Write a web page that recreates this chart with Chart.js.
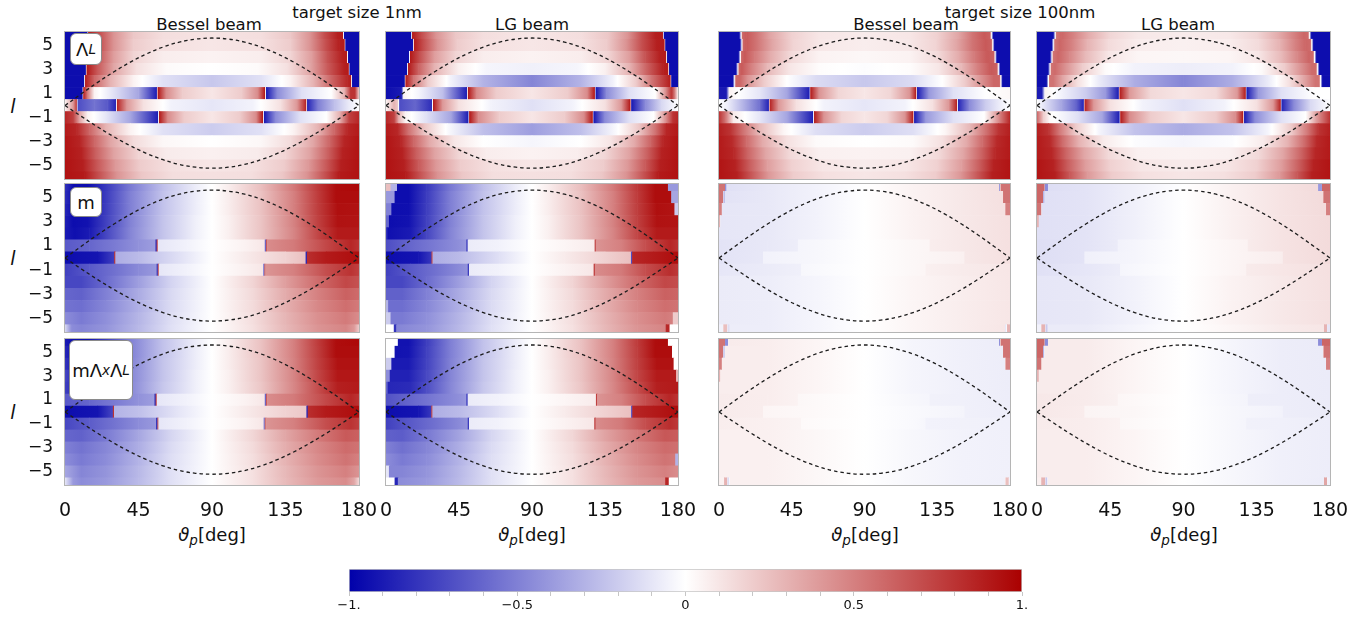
<!DOCTYPE html>
<html>
<head>
<meta charset="utf-8">
<script src="https://cdn.jsdelivr.net/npm/chart.js@4.4.0/dist/chart.umd.min.js"></script>
<style>
	body { margin: 0; width: 1370px; height: 618px; position: relative; overflow: hidden; background: #fff; font-family: "DejaVu Sans", sans-serif; color: #111; }
	canvas { position: absolute; }
	.t { position: absolute; font-size: 15px; white-space: nowrap; transform: translate(-50%, -50%) scaleX(1.1); }
	.ax { position: absolute; font-size: 18px; white-space: nowrap; transform: translate(-50%, -50%); }
	.ax sub, .box sub { font-size: 0.75em; vertical-align: -0.3em; line-height: 0; }
	.yl { position: absolute; font-size: 19px; font-style: italic; transform: translate(-50%, -50%); }
	.box { position: absolute; z-index: 5; background: #fff; border: 1px solid #8a8a8a; border-radius: 6px; box-sizing: border-box; display: flex; align-items: center; justify-content: center; font-size: 18px; }
</style>
</head>
<body>
<div class="t" style="left:357px;top:13px">target size 1nm</div>
<div class="t" style="left:1020px;top:13px">target size 100nm</div>
<div class="t" style="left:209px;top:25px">Bessel beam</div>
<div class="t" style="left:532px;top:25px">LG beam</div>
<div class="t" style="left:906px;top:25px">Bessel beam</div>
<div class="t" style="left:1178px;top:25px">LG beam</div>

<div class="yl" style="left:13px;top:106px">l</div>
<div class="yl" style="left:13px;top:258px">l</div>
<div class="yl" style="left:13px;top:412px">l</div>

<div class="ax" style="left:212px;top:534px"><i>ϑ</i><sub><i>p</i></sub>[deg]</div>
<div class="ax" style="left:532px;top:534px"><i>ϑ</i><sub><i>p</i></sub>[deg]</div>
<div class="ax" style="left:865px;top:534px"><i>ϑ</i><sub><i>p</i></sub>[deg]</div>
<div class="ax" style="left:1184px;top:534px"><i>ϑ</i><sub><i>p</i></sub>[deg]</div>

<div class="box" style="left:70px;top:33px;width:32px;height:32px">Λ<sub><i>L</i></sub></div>
<div class="box" style="left:70px;top:187px;width:32px;height:30px">m</div>
<div class="box" style="left:69px;top:340px;width:64px;height:60px">mΛ<sub><i>x</i></sub>Λ<sub><i>L</i></sub></div>

<script>
//Filas de l (de arriba hacia abajo)
const lRows = [6, 5, 4, 3, 2, 1, 0, -1, -2, -3, -4, -5, -6]
const xTicks = [0, 45, 90, 135, 180]
const yTicks = [5, 3, 1, -1, -3, -5]
const cbTicks = [-1, -0.5, 0, 0.5, 1]
const cbLabels = ['\u22121.', '\u22120.5', '0', '0.5', '1.']
const cbMinorTicks = [-1, -0.9, -0.8, -0.7, -0.6, -0.5, -0.4, -0.3, -0.2, -0.1, 0, 0.1, 0.2, 0.3, 0.4, 0.5, 0.6, 0.7, 0.8, 0.9, 1]

//Curvas punteadas
const curveTheta = [0, 10, 20, 30, 40, 50, 60, 70, 80, 90, 100, 110, 120, 130, 140, 150, 160, 170, 180]
const upperCurve = [0, 0.97, 1.92, 2.8, 3.6, 4.29, 4.85, 5.26, 5.51, 5.6, 5.51, 5.26, 4.85, 4.29, 3.6, 2.8, 1.92, 0.97, 0]
const lowerCurve = [0, -0.9, -1.78, -2.6, -3.34, -3.98, -4.5, -4.89, -5.12, -5.2, -5.12, -4.89, -4.5, -3.98, -3.34, -2.6, -1.78, -0.9, 0]

//Λ_L - Bessel - 1nm  (cada fila: pares [theta, valor])
const lambdaBessel1 = [
	[[0,-.95],[13.5,-.95],[14.5,.9],[21,.7],[30,.42],[42,.22],[60,.13],[90,.11],[120,.13],[138,.22],[150,.42],[159,.7],[167,.88],[170,.9],[171,-.95],[180,-.95]],
	[[0,-.95],[14,-.95],[15,.9],[21,.7],[30,.42],[42,.2],[60,.12],[90,.1],[120,.12],[138,.2],[150,.42],[160,.7],[168,.88],[171,.9],[172,-.95],[180,-.95]],
	[[0,-.95],[13.5,-.95],[14.5,.9],[20,.68],[30,.38],[42,.17],[60,.07],[90,.05],[120,.07],[138,.17],[151,.38],[161,.68],[170,.88],[172.5,.9],[173.5,-.95],[180,-.95]],
	[[0,-.95],[12.5,-.95],[13.5,.9],[20,.65],[30,.35],[44,.12],[62,.02],[90,0],[118,.02],[136,.12],[150,.35],[161,.65],[171,.88],[173.5,.9],[174.5,-.95],[180,-.95]],
	[[0,-.95],[11.5,-.95],[12.5,.88],[18,.6],[28,.3],[42,.05],[60,-.12],[90,-.22],[120,-.12],[138,.05],[152,.3],[163,.6],[173,.85],[175,.88],[176,-.95],[180,-.95]],
	[[0,-.95],[10.5,-.95],[11.5,.85],[14,.5],[18,.05],[30,-.12],[45,-.35],[56,-.88],[57,.9],[62,.45],[72,.2],[90,.1],[108,.2],[118,.45],[122.3,.9],[123.3,-.9],[130,-.45],[145,-.12],[163,0],[171,.3],[175,.8],[177.5,.8],[180,.2]],
	[[0,.05],[5,.4],[7,.75],[8,-.7],[18,-.55],[26,-.65],[31,-.85],[32,.85],[38,.4],[48,.12],[65,-.05],[90,-.1],[115,-.05],[132,.12],[142,.4],[147.5,.85],[148.5,-.85],[155,-.5],[165,-.25],[174,-.08],[180,0]],
	[[0,.85],[5,.75],[9,.35],[14,.05],[25,-.1],[40,-.35],[56.8,-.88],[57.8,.9],[63,.45],[73,.2],[90,.1],[107,.2],[117,.45],[121,.9],[122,-.9],[129,-.45],[144,-.12],[160,0],[168,.3],[174,.75],[180,.85]],
	[[0,.9],[7,.85],[15,.6],[25,.3],[40,.05],[60,-.12],[90,-.2],[120,-.12],[140,.05],[155,.3],[165,.6],[173,.85],[180,.9]],
	[[0,.92],[9,.86],[18,.6],[28,.35],[42,.14],[60,.03],[90,0],[120,.03],[138,.14],[152,.35],[162,.6],[171,.86],[180,.92]],
	[[0,.92],[10,.87],[19,.62],[30,.36],[45,.17],[62,.08],[90,.06],[118,.08],[135,.17],[150,.36],[161,.62],[170,.87],[180,.92]],
	[[0,.93],[11,.88],[20,.65],[31,.4],[46,.2],[65,.12],[90,.1],[115,.12],[134,.2],[149,.4],[160,.65],[169,.88],[180,.93]],
	[[0,.93],[12,.9],[21,.68],[32,.42],[47,.22],[66,.13],[90,.12],[114,.13],[133,.22],[148,.42],[159,.68],[168,.9],[180,.93]]
]

//Λ_L - LG - 1nm
const lambdaLG1 = [
	[[0,-.95],[15.3,-.95],[16.3,.9],[22,.7],[31,.42],[43,.22],[60,.13],[90,.1],[120,.13],[137,.22],[149,.42],[158,.7],[166,.88],[170.5,.9],[171.5,-.95],[180,-.95]],
	[[0,-.95],[16.4,-.95],[17.4,.9],[23,.7],[32,.42],[44,.2],[60,.12],[90,.1],[120,.12],[136,.2],[148,.42],[158,.7],[167,.88],[171.5,.9],[172.5,-.95],[180,-.95]],
	[[0,-.95],[14,-.95],[15,.9],[21,.68],[30,.38],[43,.17],[60,.07],[90,.05],[120,.07],[137,.17],[150,.38],[160,.68],[169,.88],[172.5,.9],[173.5,-.95],[180,-.95]],
	[[0,-.95],[12.8,-.95],[13.8,.9],[20,.62],[30,.3],[45,.06],[62,-.04],[90,-.06],[118,-.04],[135,.06],[150,.3],[161,.62],[171,.88],[173.8,.9],[174.8,-.95],[180,-.95]],
	[[0,-.95],[11.3,-.95],[12.3,.88],[17,.55],[26,.2],[40,-.05],[60,-.3],[90,-.48],[120,-.3],[140,-.05],[154,.2],[164,.55],[174,.85],[175.2,.88],[176.2,-.95],[180,-.95]],
	[[0,-.95],[9.5,-.9],[11,.05],[20,-.04],[35,-.25],[49.7,-.88],[50.7,.9],[56,.45],[68,.2],[90,.1],[112,.2],[124,.45],[128.5,.9],[129.5,-.9],[136,-.45],[150,-.12],[166,0],[172,.4],[176,.8],[177.5,.6],[180,.05]],
	[[0,.05],[5,.3],[7.5,.2],[8.5,-.7],[18,-.6],[28.2,-.82],[29.2,.9],[35,.4],[45,.12],[65,-.05],[90,-.12],[115,-.05],[135,.12],[145,.4],[150.5,.9],[151.5,-.9],[160,-.45],[170,-.15],[180,0]],
	[[0,.85],[5,.75],[8,.3],[12,.05],[25,-.12],[40,-.35],[50.6,-.88],[51.6,.9],[57,.45],[70,.2],[90,.1],[110,.2],[122,.45],[127.2,.9],[128.2,-.9],[135,-.45],[150,-.12],[165,0],[172,.4],[177,.8],[180,.85]],
	[[0,.9],[7,.85],[14,.55],[24,.22],[38,-.02],[60,-.25],[90,-.38],[120,-.25],[142,-.02],[156,.22],[166,.55],[173,.85],[180,.9]],
	[[0,.92],[9,.86],[17,.6],[27,.33],[42,.1],[60,0],[90,-.04],[120,0],[138,.1],[153,.33],[163,.6],[171,.86],[180,.92]],
	[[0,.92],[10,.87],[19,.62],[30,.36],[45,.16],[62,.07],[90,.05],[118,.07],[135,.16],[150,.36],[161,.62],[170,.87],[180,.92]],
	[[0,.93],[11,.88],[20,.65],[31,.4],[46,.2],[65,.12],[90,.1],[115,.12],[134,.2],[149,.4],[160,.65],[169,.88],[180,.93]],
	[[0,.93],[12,.9],[21,.68],[32,.42],[47,.22],[66,.13],[90,.12],[114,.13],[133,.22],[148,.42],[159,.68],[168,.9],[180,.93]]
]

//Λ_L - Bessel - 100nm
const lambdaBessel100 = [
	[[0,-.95],[12.5,-.95],[14.5,.6],[17,.65],[23,.55],[32,.35],[45,.18],[62,.1],[90,.08],[118,.1],[135,.18],[148,.35],[157,.55],[164,.65],[167.7,.62],[169.7,-.95],[180,-.95]],
	[[0,-.95],[13,-.95],[15,.6],[17,.65],[23,.55],[33,.35],[46,.17],[63,.09],[90,.07],[117,.09],[134,.17],[147,.35],[157,.55],[165,.65],[168.5,.62],[170.5,-.95],[180,-.95]],
	[[0,-.95],[12,-.95],[14,.6],[16,.65],[22,.52],[32,.32],[45,.14],[62,.05],[90,.03],[118,.05],[135,.14],[148,.32],[158,.52],[166,.65],[170,.62],[172,-.95],[180,-.95]],
	[[0,-.95],[10.5,-.95],[12.5,.6],[14,.65],[20,.5],[30,.28],[44,.1],[62,.01],[90,-.01],[118,.01],[136,.1],[150,.28],[160,.5],[168,.65],[172,.62],[174,-.95],[180,-.95]],
	[[0,-.95],[8.5,-.95],[10.5,.6],[13,.6],[18,.42],[28,.2],[42,0],[60,-.14],[90,-.22],[120,-.14],[138,0],[152,.2],[162,.42],[170,.6],[173.5,.6],[175.5,-.95],[180,-.95]],
	[[0,-.9],[4.5,-.9],[6.5,.05],[12,0],[25,-.1],[42,-.35],[55.8,-.88],[56.8,.88],[62,.42],[74,.16],[90,.1],[106,.16],[118,.42],[121.8,.88],[122.8,-.88],[130,-.4],[145,-.12],[165,0],[180,.03]],
	[[0,0],[5,-.06],[15,-.3],[25,-.55],[30.6,-.85],[31.6,.85],[37,.4],[48,.12],[65,-.05],[90,-.1],[115,-.05],[132,.12],[142,.4],[147,.85],[148,-.85],[155,-.45],[165,-.2],[175,-.05],[180,0]],
	[[0,.8],[4,.55],[9,.08],[25,-.1],[42,-.35],[58,-.88],[59,.88],[65,.42],[76,.16],[90,.1],[104,.16],[115,.42],[120,.88],[121,-.88],[128,-.4],[145,-.12],[164,0],[172,.4],[180,.85]],
	[[0,.88],[7,.8],[15,.55],[25,.28],[40,.04],[60,-.13],[90,-.2],[120,-.13],[140,.04],[155,.28],[165,.55],[173,.8],[180,.88]],
	[[0,.9],[8,.84],[17,.58],[27,.33],[42,.12],[60,.02],[90,0],[120,.02],[138,.12],[153,.33],[163,.58],[172,.84],[180,.9]],
	[[0,.9],[9,.85],[18,.6],[29,.35],[44,.15],[62,.06],[90,.05],[118,.06],[136,.15],[151,.35],[162,.6],[171,.85],[180,.9]],
	[[0,.92],[10,.87],[19,.63],[30,.38],[45,.18],[64,.1],[90,.08],[116,.1],[135,.18],[150,.38],[161,.63],[170,.87],[180,.92]],
	[[0,.92],[11,.88],[20,.66],[31,.4],[46,.2],[65,.12],[90,.1],[115,.12],[134,.2],[149,.4],[160,.66],[169,.88],[180,.92]]
]

//Λ_L - LG - 100nm
const lambdaLG100 = [
	[[0,-.95],[10,-.95],[12,.55],[15,.6],[22,.5],[32,.32],[45,.16],[62,.09],[90,.08],[118,.09],[135,.16],[148,.32],[158,.5],[164,.6],[166.6,.58],[168.6,-.95],[180,-.95]],
	[[0,-.95],[9,-.95],[11,.55],[14,.6],[21,.5],[31,.3],[44,.14],[62,.07],[90,.06],[118,.07],[136,.14],[149,.3],[159,.5],[165,.6],[168,.58],[170,-.95],[180,-.95]],
	[[0,-.95],[8,-.95],[10,.55],[13,.6],[20,.47],[30,.27],[44,.1],[62,.04],[90,.03],[118,.04],[136,.1],[150,.27],[160,.47],[167,.6],[169.7,.58],[171.7,-.95],[180,-.95]],
	[[0,-.95],[6.8,-.95],[8.8,.55],[11,.58],[18,.42],[28,.2],[42,.02],[60,-.05],[90,-.07],[120,-.05],[138,.02],[152,.2],[162,.42],[169,.58],[171.5,.58],[173.5,-.95],[180,-.95]],
	[[0,-.95],[5.8,-.95],[7.8,.55],[10,.55],[16,.35],[25,.12],[38,-.08],[60,-.32],[90,-.48],[120,-.32],[142,-.08],[155,.12],[164,.35],[171,.55],[173.4,.55],[175.4,-.95],[180,-.95]],
	[[0,-.9],[3,-.9],[5,.05],[15,-.05],[30,-.2],[42,-.4],[50,-.88],[51,.88],[57,.4],[70,.15],[90,.1],[110,.15],[123,.4],[128,.88],[129,-.88],[136,-.4],[150,-.12],[170,0],[180,0]],
	[[0,0],[4,-.1],[15,-.35],[24,-.6],[28.5,-.85],[29.5,.85],[35,.4],[45,.12],[65,-.05],[90,-.12],[115,-.05],[135,.12],[145,.4],[149.5,.85],[150.5,-.85],[158,-.45],[168,-.15],[180,0]],
	[[0,.6],[4,.2],[8,.02],[25,-.12],[40,-.35],[50.5,-.88],[51.5,.88],[57,.45],[70,.2],[90,.1],[110,.2],[122,.45],[126.5,.88],[127.5,-.88],[134,-.45],[150,-.12],[165,0],[172,.4],[180,.8]],
	[[0,.88],[7,.8],[14,.52],[24,.2],[38,-.04],[60,-.24],[90,-.33],[120,-.24],[142,-.04],[156,.2],[166,.52],[173,.8],[180,.88]],
	[[0,.9],[8,.84],[16,.57],[26,.3],[41,.08],[60,-.01],[90,-.04],[120,-.01],[139,.08],[154,.3],[164,.57],[172,.84],[180,.9]],
	[[0,.9],[9,.85],[18,.6],[29,.35],[44,.15],[62,.06],[90,.05],[118,.06],[136,.15],[151,.35],[162,.6],[171,.85],[180,.9]],
	[[0,.92],[10,.87],[19,.63],[30,.38],[45,.18],[64,.1],[90,.08],[116,.1],[135,.18],[150,.38],[161,.63],[170,.87],[180,.92]],
	[[0,.92],[11,.88],[20,.66],[31,.4],[46,.2],[65,.12],[90,.1],[115,.12],[134,.2],[149,.4],[160,.66],[169,.88],[180,.92]]
]

//m - Bessel - 1nm
const mBessel1 = [
	[[0,-.8],[5,-.95],[14,-.95],[25,-.78],[40,-.52],[60,-.25],[80,-.07],[90,0],[100,.07],[120,.25],[140,.52],[155,.78],[166,.95],[180,.97]],
	[[0,-.82],[5,-.95],[14,-.95],[25,-.77],[40,-.5],[60,-.24],[80,-.07],[90,0],[100,.07],[120,.24],[140,.5],[155,.77],[166,.95],[180,.95]],
	[[0,-.85],[5,-.95],[14,-.94],[25,-.76],[40,-.5],[60,-.24],[80,-.07],[90,0],[100,.07],[120,.24],[140,.5],[155,.76],[167,.94],[180,.93]],
	[[0,-.88],[5,-.95],[14,-.93],[25,-.75],[40,-.49],[60,-.23],[80,-.06],[90,0],[100,.06],[120,.23],[140,.49],[155,.75],[167,.93],[180,.92]],
	[[0,-.9],[6,-.94],[15,-.9],[25,-.73],[40,-.48],[60,-.23],[80,-.06],[90,0],[100,.06],[120,.23],[140,.48],[155,.73],[167,.9],[180,.9]],
	[[0,-.65],[15,-.6],[30,-.52],[45,-.43],[55.6,-.38],[55.6,-.85],[56.3,-.85],[56.3,.7],[57,.7],[57,-.1],[75,-.05],[90,0],[110,.05],[122.5,.1],[122.5,-.6],[123.2,-.6],[123.2,.7],[124,.45],[140,.52],[160,.72],[175,.85],[180,.8]],
	[[0,-.95],[20,-.92],[30.3,-.75],[30.3,.8],[31,.8],[31,-.32],[45,-.27],[70,-.12],[90,0],[110,.08],[135,.18],[147.5,.25],[147.5,-.85],[148.3,-.85],[148.3,.82],[160,.9],[180,.95]],
	[[0,-.75],[15,-.65],[30,-.56],[45,-.46],[56.3,-.4],[56.3,-.8],[57,-.8],[57,.6],[57.7,.6],[57.7,-.1],[75,-.05],[90,0],[110,.06],[121.5,.1],[121.5,-.5],[122.2,-.5],[122.2,.6],[123,.42],[140,.5],[160,.7],[175,.8],[180,.75]],
	[[0,-.72],[10,-.72],[25,-.58],[45,-.38],[65,-.17],[90,0],[115,.17],[135,.38],[155,.58],[172,.72],[180,.68]],
	[[0,-.6],[10,-.62],[25,-.5],[45,-.33],[65,-.15],[90,0],[115,.15],[135,.33],[155,.5],[172,.62],[180,.58]],
	[[0,-.55],[10,-.57],[25,-.47],[45,-.31],[65,-.14],[90,0],[115,.14],[135,.31],[155,.47],[172,.57],[180,.52]],
	[[0,-.45],[10,-.52],[25,-.44],[45,-.29],[65,-.13],[90,0],[115,.13],[135,.29],[155,.44],[172,.52],[180,.45]],
	[[0,-.15],[4,-.45],[10,-.48],[25,-.42],[45,-.28],[65,-.12],[90,0],[115,.12],[135,.28],[155,.42],[172,.48],[177,.4],[180,.2]]
]

//m - LG - 1nm
const mLG1 = [
	[[0,.25],[3,.25],[3,-.3],[7,-.3],[7,-.95],[14,-.95],[25,-.78],[40,-.52],[60,-.25],[80,-.07],[90,0],[100,.07],[120,.25],[140,.52],[155,.78],[166,.95],[174,.95],[174,-.4],[180,-.4]],
	[[0,-.4],[5.5,-.4],[5.5,-.95],[14,-.95],[25,-.77],[40,-.5],[60,-.24],[80,-.07],[90,0],[100,.07],[120,.24],[140,.5],[155,.77],[166,.95],[176,.95],[176,-.35],[180,-.35]],
	[[0,-.5],[3.5,-.5],[3.5,-.95],[14,-.94],[25,-.76],[40,-.5],[60,-.24],[80,-.07],[90,0],[100,.07],[120,.24],[140,.5],[155,.76],[167,.94],[178,.92],[178,-.2],[180,-.2]],
	[[0,-.6],[2,-.6],[2,-.95],[14,-.93],[25,-.75],[40,-.49],[60,-.23],[80,-.06],[90,0],[100,.06],[120,.23],[140,.49],[155,.75],[167,.93],[180,.92]],
	[[0,-.8],[1,-.8],[1,-.94],[15,-.9],[25,-.73],[40,-.48],[60,-.23],[80,-.06],[90,0],[100,.06],[120,.23],[140,.48],[155,.73],[167,.9],[180,.9]],
	[[0,-.7],[15,-.6],[30,-.52],[45,-.44],[49.8,-.4],[49.8,-.85],[50.5,-.85],[50.5,-.08],[70,-.05],[90,0],[110,.04],[128.8,.08],[128.8,.75],[129.5,.75],[129.5,.42],[145,.5],[160,.7],[175,.85],[180,.8]],
	[[0,-.95],[20,-.92],[28.2,-.78],[28.2,.7],[28.9,.7],[28.9,-.32],[45,-.27],[70,-.12],[90,0],[110,.08],[135,.18],[151.2,.25],[151.2,-.7],[151.9,-.7],[151.9,.85],[165,.9],[180,.95]],
	[[0,-.75],[15,-.65],[30,-.56],[45,-.46],[50.6,-.42],[50.6,-.85],[51.3,-.85],[51.3,-.08],[70,-.05],[90,0],[110,.05],[128.2,.1],[128.2,.8],[128.9,.8],[128.9,.45],[145,.52],[160,.7],[175,.82],[180,.78]],
	[[0,-.72],[10,-.72],[25,-.58],[45,-.38],[65,-.17],[90,0],[115,.17],[135,.38],[155,.58],[172,.72],[180,.7]],
	[[0,-.62],[10,-.62],[25,-.5],[45,-.33],[65,-.15],[90,0],[115,.15],[135,.33],[155,.5],[172,.62],[180,.6]],
	[[0,-.3],[1.5,-.3],[1.5,-.57],[10,-.57],[25,-.47],[45,-.31],[65,-.14],[90,0],[115,.14],[135,.31],[155,.47],[172,.57],[180,.55]],
	[[0,-.2],[3,-.2],[3,-.52],[10,-.52],[25,-.44],[45,-.29],[65,-.13],[90,0],[115,.13],[135,.29],[155,.44],[172,.52],[177,.5],[177,.2],[180,.2]],
	[[0,0],[5,0],[5,-.8],[6.5,-.8],[6.5,-.48],[25,-.42],[45,-.28],[65,-.12],[90,0],[115,.12],[135,.28],[155,.42],[172,.48],[173,.85],[175,.85],[175,0],[180,0]]
]

//m - Bessel - 100nm
const mBessel100 = [
	[[0,.55],[3.5,.55],[4,-.45],[5,-.12],[30,-.09],[60,-.05],[90,0],[120,.05],[150,.09],[173,.12],[173.5,-.4],[174.5,.55],[180,.55]],
	[[0,.55],[2.5,.55],[3,-.35],[4,-.11],[30,-.09],[60,-.05],[90,0],[120,.05],[150,.09],[175.5,.12],[176,.55],[180,.55]],
	[[0,.5],[1.5,.5],[2,-.1],[30,-.09],[60,-.05],[90,0],[120,.05],[150,.09],[177,.12],[177.5,.5],[180,.5]],
	[[0,.3],[.8,.3],[1,-.1],[30,-.09],[60,-.05],[90,0],[120,.05],[150,.09],[180,.12]],
	[[0,-.1],[30,-.09],[60,-.05],[90,0],[120,.05],[150,.09],[180,.12]],
	[[0,-.11],[30,-.09],[49,-.07],[49,-.04],[60,-.03],[90,0],[120,.03],[130.5,.04],[130.5,.07],[150,.09],[180,.12]],
	[[0,-.11],[27.4,-.09],[27.4,-.05],[60,-.03],[90,0],[120,.03],[152,.06],[152,.09],[180,.12]],
	[[0,-.1],[30,-.08],[51,-.06],[51,-.03],[90,0],[120,.03],[128,.04],[128,.06],[150,.08],[180,.1]],
	[[0,-.08],[30,-.07],[60,-.04],[90,0],[120,.04],[150,.07],[180,.1]],
	[[0,-.08],[30,-.07],[60,-.04],[90,0],[120,.04],[150,.07],[180,.1]],
	[[0,-.08],[30,-.07],[60,-.04],[90,0],[120,.04],[150,.07],[180,.1]],
	[[0,-.08],[30,-.07],[60,-.04],[90,0],[120,.04],[150,.07],[180,.1]],
	[[0,-.05],[2.5,-.05],[3,.25],[5,.25],[5.5,-.15],[7,-.07],[30,-.07],[60,-.04],[90,0],[120,.04],[150,.07],[177,.1],[177.5,-.2],[178.5,.3],[180,.3]]
]

//m - LG - 100nm
const mLG100 = [
	[[0,.6],[4.5,.6],[5,-.45],[6.5,-.45],[7,-.13],[30,-.11],[60,-.06],[90,0],[120,.06],[150,.11],[172.5,.14],[173,-.4],[174.8,-.4],[175.3,.6],[180,.6]],
	[[0,.6],[3.5,.6],[4,-.3],[5,-.12],[30,-.11],[60,-.06],[90,0],[120,.06],[150,.11],[175.8,.14],[176.3,.55],[180,.55]],
	[[0,.55],[2.5,.55],[3,-.12],[30,-.11],[60,-.06],[90,0],[120,.06],[150,.11],[177.3,.14],[177.8,.5],[180,.5]],
	[[0,.3],[1,.3],[1.3,-.12],[30,-.11],[60,-.06],[90,0],[120,.06],[150,.11],[180,.14]],
	[[0,-.12],[30,-.11],[60,-.06],[90,0],[120,.06],[150,.11],[180,.14]],
	[[0,-.13],[30,-.11],[49.8,-.08],[49.8,-.05],[60,-.04],[90,0],[120,.04],[129.7,.05],[129.7,.08],[150,.11],[180,.14]],
	[[0,-.13],[29.3,-.11],[29.3,-.06],[60,-.04],[90,0],[120,.04],[151.2,.07],[151.2,.11],[180,.14]],
	[[0,-.12],[30,-.1],[51.2,-.07],[51.2,-.04],[90,0],[120,.04],[128.7,.05],[128.7,.08],[150,.1],[180,.12]],
	[[0,-.1],[30,-.09],[60,-.05],[90,0],[120,.05],[150,.09],[180,.12]],
	[[0,-.1],[30,-.09],[60,-.05],[90,0],[120,.05],[150,.09],[180,.12]],
	[[0,-.1],[30,-.09],[60,-.05],[90,0],[120,.05],[150,.09],[180,.12]],
	[[0,-.1],[30,-.09],[60,-.05],[90,0],[120,.05],[150,.09],[180,.12]],
	[[0,-.05],[2.5,-.05],[3,.3],[5,.3],[5.5,-.25],[7,-.08],[30,-.08],[60,-.04],[90,0],[120,.04],[150,.08],[176,.1],[176.5,.3],[178,.3],[178.5,-.1],[180,-.1]]
]

//mΛxΛL - Bessel - 1nm
const mllBessel1 = [
	[[0,-.9],[5,-.95],[14,-.93],[25,-.76],[40,-.5],[60,-.24],[80,-.07],[90,0],[100,.07],[120,.24],[140,.5],[155,.77],[166,.95],[180,.97]],
	[[0,-.85],[5,-.93],[14,-.92],[25,-.75],[40,-.5],[60,-.24],[80,-.07],[90,0],[100,.07],[120,.24],[140,.5],[155,.76],[166,.95],[180,.95]],
	[[0,-.8],[5,-.9],[14,-.9],[25,-.74],[40,-.49],[60,-.23],[80,-.07],[90,0],[100,.07],[120,.23],[140,.49],[155,.75],[167,.93],[180,.93]],
	[[0,-.72],[5,-.85],[14,-.87],[25,-.72],[40,-.48],[60,-.23],[80,-.06],[90,0],[100,.06],[120,.23],[140,.48],[155,.73],[167,.91],[180,.91]],
	[[0,-.75],[6,-.85],[15,-.83],[25,-.7],[40,-.47],[60,-.22],[80,-.06],[90,0],[100,.06],[120,.22],[140,.47],[155,.7],[167,.88],[180,.9]],
	[[0,-.65],[15,-.6],[30,-.52],[45,-.43],[55,-.38],[55,-.85],[55.7,-.85],[55.7,.7],[56.4,.7],[56.4,-.1],[75,-.05],[90,0],[110,.05],[122.5,.1],[122.5,-.6],[123.2,-.6],[123.2,.7],[124,.45],[140,.52],[160,.72],[175,.85],[180,.8]],
	[[0,-.95],[20,-.92],[29.5,-.72],[29.5,.8],[30.2,.8],[30.2,-.3],[45,-.25],[70,-.1],[90,0],[110,.08],[135,.18],[148,.22],[148,-.85],[148.8,-.85],[148.8,.82],[160,.9],[180,.95]],
	[[0,-.72],[15,-.64],[30,-.55],[45,-.45],[56,-.4],[56,-.85],[56.7,-.85],[56.7,.6],[57.4,.6],[57.4,-.1],[75,-.05],[90,0],[110,.05],[121.8,.1],[121.8,-.5],[122.5,-.5],[122.5,.6],[123.3,.42],[140,.5],[160,.7],[175,.8],[180,.75]],
	[[0,-.6],[10,-.62],[25,-.52],[45,-.35],[65,-.16],[90,0],[115,.16],[135,.35],[155,.52],[172,.65],[180,.62]],
	[[0,-.5],[10,-.55],[25,-.47],[45,-.32],[65,-.14],[90,0],[115,.14],[135,.32],[155,.47],[172,.58],[180,.55]],
	[[0,-.45],[10,-.52],[25,-.45],[45,-.3],[65,-.13],[90,0],[115,.13],[135,.3],[155,.45],[172,.55],[180,.5]],
	[[0,-.35],[10,-.48],[25,-.42],[45,-.28],[65,-.12],[90,0],[115,.12],[135,.28],[155,.42],[172,.5],[180,.42]],
	[[0,-.1],[5,-.4],[10,-.45],[25,-.4],[45,-.27],[65,-.12],[90,0],[115,.12],[135,.27],[155,.4],[172,.45],[177,.35],[180,.15]]
]

//mΛxΛL - LG - 1nm
const mllLG1 = [
	[[0,0],[7.5,0],[7.5,-.93],[14,-.93],[25,-.76],[40,-.5],[60,-.24],[80,-.07],[90,0],[100,.07],[120,.24],[140,.5],[155,.77],[166,.95],[174,.96],[174,0],[180,0]],
	[[0,0],[5.5,0],[5.5,-.93],[14,-.92],[25,-.75],[40,-.5],[60,-.24],[80,-.07],[90,0],[100,.07],[120,.24],[140,.5],[155,.76],[166,.95],[176.5,.95],[176.5,0],[180,0]],
	[[0,-.2],[3.5,-.2],[3.5,-.9],[14,-.9],[25,-.74],[40,-.49],[60,-.23],[80,-.07],[90,0],[100,.07],[120,.23],[140,.49],[155,.75],[167,.93],[177.5,.93],[177.5,0],[180,0]],
	[[0,-.45],[2.5,-.45],[2.5,-.87],[14,-.87],[25,-.72],[40,-.48],[60,-.23],[80,-.06],[90,0],[100,.06],[120,.23],[140,.48],[155,.73],[167,.9],[179,.9],[179,.3],[180,.3]],
	[[0,-.6],[1.2,-.6],[1.2,-.85],[15,-.83],[25,-.7],[40,-.47],[60,-.22],[80,-.06],[90,0],[100,.06],[120,.22],[140,.47],[155,.7],[167,.88],[180,.9]],
	[[0,-.68],[15,-.6],[30,-.52],[45,-.44],[49.8,-.4],[49.8,-.85],[50.5,-.85],[50.5,-.08],[70,-.05],[90,0],[110,.04],[129.6,.08],[129.6,.75],[130.3,.75],[130.3,.42],[145,.5],[160,.7],[175,.85],[180,.8]],
	[[0,-.95],[20,-.92],[28.1,-.78],[28.1,.7],[28.8,.7],[28.8,-.32],[45,-.27],[70,-.12],[90,0],[110,.08],[135,.18],[151.3,.25],[151.3,-.7],[152,-.7],[152,.85],[165,.9],[180,.95]],
	[[0,-.75],[15,-.65],[30,-.56],[45,-.46],[50.6,-.42],[50.6,-.85],[51.3,-.85],[51.3,-.08],[70,-.05],[90,0],[110,.05],[128.6,.1],[128.6,.8],[129.3,.8],[129.3,.45],[145,.52],[160,.7],[175,.82],[180,.78]],
	[[0,-.62],[10,-.64],[25,-.53],[45,-.36],[65,-.16],[90,0],[115,.16],[135,.36],[155,.53],[172,.66],[180,.64]],
	[[0,-.5],[10,-.56],[25,-.48],[45,-.32],[65,-.14],[90,0],[115,.14],[135,.32],[155,.48],[172,.58],[180,.56]],
	[[0,-.45],[10,-.52],[25,-.45],[45,-.3],[65,-.13],[90,0],[115,.13],[135,.3],[155,.45],[172,.55],[178.5,.52],[178.5,-.3],[180,-.3]],
	[[0,-.1],[2,-.1],[2,-.48],[10,-.48],[25,-.42],[45,-.28],[65,-.12],[90,0],[115,.12],[135,.28],[155,.42],[172,.5],[180,.45]],
	[[0,0],[5.5,0],[5.5,-.85],[7.5,-.85],[7.5,-.45],[25,-.4],[45,-.27],[65,-.12],[90,0],[115,.12],[135,.27],[155,.4],[172,.45],[172.5,.85],[174.5,.85],[174.5,0],[180,0]]
]

//mΛxΛL - Bessel - 100nm
const mllBessel100 = [
	[[0,.55],[3.5,.55],[4,-.45],[5.5,-.45],[6,.08],[30,.07],[60,.04],[90,0],[120,-.04],[150,-.06],[173,-.07],[173.5,-.45],[174.5,.55],[180,.55]],
	[[0,.55],[2.5,.55],[3,-.35],[4,.07],[30,.07],[60,.04],[90,0],[120,-.04],[150,-.06],[175.5,-.07],[176,.55],[180,.55]],
	[[0,.5],[1.5,.5],[2,.07],[30,.07],[60,.04],[90,0],[120,-.04],[150,-.06],[177,-.07],[177.5,.5],[180,.5]],
	[[0,.3],[.8,.3],[1,.07],[30,.07],[60,.04],[90,0],[120,-.04],[150,-.06],[180,-.07]],
	[[0,.07],[30,.07],[60,.04],[90,0],[120,-.04],[150,-.06],[180,-.07]],
	[[0,.08],[30,.07],[49,.05],[49,.03],[90,0],[120,-.03],[130.5,-.04],[130.5,-.055],[150,-.06],[180,-.07]],
	[[0,.08],[27.4,.07],[27.4,.04],[60,.025],[90,0],[120,-.025],[152,-.045],[152,-.06],[180,-.07]],
	[[0,.07],[30,.06],[51,.045],[51,.025],[90,0],[120,-.025],[128,-.035],[128,-.05],[150,-.055],[180,-.06]],
	[[0,.06],[30,.06],[60,.03],[90,0],[120,-.03],[150,-.05],[180,-.06]],
	[[0,.06],[30,.06],[60,.03],[90,0],[120,-.03],[150,-.05],[180,-.06]],
	[[0,.06],[30,.06],[60,.03],[90,0],[120,-.03],[150,-.05],[180,-.06]],
	[[0,.06],[30,.06],[60,.03],[90,0],[120,-.03],[150,-.05],[180,-.06]],
	[[0,.05],[3,.05],[3.5,.3],[5,.3],[5.5,-.2],[7,.06],[30,.06],[60,.03],[90,0],[120,-.03],[150,-.05],[177,-.06],[177.5,.25],[179,.25],[179.5,-.05],[180,-.05]]
]

//mΛxΛL - LG - 100nm
const mllLG100 = [
	[[0,.6],[4.5,.6],[5,-.45],[6.5,-.45],[7,.08],[30,.08],[60,.04],[90,0],[120,-.04],[150,-.07],[172.5,-.08],[173,-.45],[174.8,-.45],[175.3,.6],[180,.6]],
	[[0,.6],[3.5,.6],[4,-.3],[5,.08],[30,.08],[60,.04],[90,0],[120,-.04],[150,-.07],[175.8,-.08],[176.3,.55],[180,.55]],
	[[0,.55],[2.5,.55],[3,.08],[30,.08],[60,.04],[90,0],[120,-.04],[150,-.07],[177.3,-.08],[177.8,.5],[180,.5]],
	[[0,.3],[1,.3],[1.3,.08],[30,.08],[60,.04],[90,0],[120,-.04],[150,-.07],[180,-.08]],
	[[0,.08],[30,.08],[60,.04],[90,0],[120,-.04],[150,-.07],[180,-.08]],
	[[0,.09],[30,.08],[49.8,.055],[49.8,.035],[90,0],[120,-.035],[129.7,-.045],[129.7,-.065],[150,-.07],[180,-.08]],
	[[0,.09],[29.3,.075],[29.3,.045],[60,.03],[90,0],[120,-.03],[151.2,-.05],[151.2,-.07],[180,-.08]],
	[[0,.08],[30,.07],[51.2,.05],[51.2,.03],[90,0],[120,-.03],[128.7,-.04],[128.7,-.055],[150,-.06],[180,-.07]],
	[[0,.07],[30,.07],[60,.04],[90,0],[120,-.03],[150,-.06],[180,-.07]],
	[[0,.07],[30,.07],[60,.04],[90,0],[120,-.03],[150,-.06],[180,-.07]],
	[[0,.07],[30,.07],[60,.04],[90,0],[120,-.03],[150,-.06],[180,-.07]],
	[[0,.07],[30,.07],[60,.04],[90,0],[120,-.03],[150,-.06],[180,-.07]],
	[[0,.06],[2.5,.06],[3,.3],[5,.3],[5.5,-.3],[7,.07],[30,.07],[60,.04],[90,0],[120,-.03],[150,-.06],[176,-.07],[176.5,.35],[178,.35],[178.5,-.05],[180,-.05]]
]

const panels = [
	[lambdaBessel1, lambdaLG1, lambdaBessel100, lambdaLG100],
	[mBessel1, mLG1, mBessel100, mLG100],
	[mllBessel1, mllLG1, mllBessel100, mllLG100]
]

//Geometría de los paneles
const colLeft = [65, 386, 719, 1037]
const colWidth = [294, 292, 291, 293]
const rowTop = [32, 184, 339]
const rowHeight = [147, 148, 146]
const PAD = 30
const PADV = 16

//Mapa de color azul-blanco-rojo
const colorOf = v => {
	v = Math.max(-1, Math.min(1, v))
	const t = Math.abs(v)
	const w = Math.round(255 - 255 * t)
	const c = Math.round(255 - 85 * t)
	return v < 0 ? `rgb(${w}, ${w}, ${c})` : `rgb(${c}, ${w}, ${w})`
}

const buildSegments = rows => {
	let segs = []
	rows.forEach((row, i) => {
		for (let k = 0; k < row.length - 1; k++) {
			const [a, va] = row[k]
			const [b, vb] = row[k + 1]
			if (b > a) segs.push({ x: [a, b], y: lRows[i], v: [va, vb] })
		}
	})
	return segs
}

const segmentFill = ctx => {
	const chart = ctx.chart
	const raw = ctx.raw
	if (!raw || !raw.v || !chart.chartArea) return 'rgba(0,0,0,0)'
	const xs = chart.scales.x
	const x0 = xs.getPixelForValue(raw.x[0])
	const x1 = xs.getPixelForValue(raw.x[1])
	const g = chart.ctx.createLinearGradient(x0, 0, x1, 0)
	const [va, vb] = raw.v
	g.addColorStop(0, colorOf(va))
	if (va * vb < 0) g.addColorStop(va / (va - vb), colorOf(0))
	g.addColorStop(1, colorOf(vb))
	return g
}

const curvePoints = vals => curveTheta.map((t, i) => ({ x: t, y: vals[i] }))

const framePlugin = {
	id: 'frame',
	afterDraw: chart => {
		const { ctx, chartArea: a } = chart
		ctx.save()
		ctx.strokeStyle = '#b5b5b5'
		ctx.lineWidth = 1
		ctx.strokeRect(a.left - 0.5, a.top - 0.5, a.right - a.left + 1, a.bottom - a.top + 1)
		ctx.restore()
	}
}

const tickFont = size => ({ family: 'DejaVu Sans', size: size })

//Generador de cada panel
panels.forEach((panelRow, r) => panelRow.forEach((rows, c) => {
	const axisW = c === 0 ? 58 : 0
	const axisH = r === 2 ? 34 : 0
	const w = colWidth[c] + axisW + 2 * PAD
	const h = rowHeight[r] + axisH + 2 * PADV
	const canvas = document.createElement('canvas')
	canvas.width = w
	canvas.height = h
	canvas.style.left = (colLeft[c] - axisW - PAD) + 'px'
	canvas.style.top = (rowTop[r] - PADV) + 'px'
	canvas.style.width = w + 'px'
	canvas.style.height = h + 'px'
	document.body.appendChild(canvas)

	new Chart(canvas, {
		type: 'bar',
		data: {
			datasets: [
				{
					type: 'bar',
					indexAxis: 'y',
					data: buildSegments(rows),
					backgroundColor: segmentFill,
					borderWidth: 0,
					barPercentage: 1,
					categoryPercentage: 1,
					order: 2
				},
				{
					type: 'line',
					data: curvePoints(upperCurve),
					borderColor: '#1c1c1c',
					borderWidth: 1.3,
					borderDash: [3.5, 3],
					pointRadius: 0,
					tension: 0.4,
					fill: false,
					order: 1
				},
				{
					type: 'line',
					data: curvePoints(lowerCurve),
					borderColor: '#1c1c1c',
					borderWidth: 1.3,
					borderDash: [3.5, 3],
					pointRadius: 0,
					tension: 0.4,
					fill: false,
					order: 1
				}
			]
		},
		options: {
			responsive: false,
			animation: false,
			events: [],
			layout: { padding: { left: PAD, right: PAD, top: PADV, bottom: PADV } },
			plugins: { legend: { display: false }, tooltip: { enabled: false } },
			scales: {
				x: {
					type: 'linear', min: 0, max: 180, offset: false,
					display: r === 2,
					grid: { display: false, offset: false },
					border: { display: false },
					afterBuildTicks: s => { s.ticks = xTicks.map(v => ({ value: v })) },
					ticks: { font: tickFont(19), color: '#111', padding: 7, maxRotation: 0, autoSkip: false, callback: v => String(v) },
					afterFit: s => { s.height = axisH; s.paddingLeft = 0; s.paddingRight = 0 }
				},
				y: {
					type: 'linear', min: -6.1, max: 6.1, offset: false,
					display: c === 0,
					grid: { display: false, offset: false },
					border: { display: false },
					afterBuildTicks: s => { s.ticks = yTicks.map(v => ({ value: v })) },
					ticks: { font: tickFont(17), color: '#111', padding: 4, autoSkip: false, callback: v => String(v).replace('-', '\u2212') },
					afterFit: s => { s.width = axisW; s.paddingTop = 0; s.paddingBottom = 0 }
				}
			}
		},
		plugins: [framePlugin]
	})
}))

//Barra de color
const cbLeft = 349, cbWidth = 673, cbTop = 569, cbHeight = 23
const cbCanvas = document.createElement('canvas')
const cbW = cbWidth + 2 * PAD, cbH = cbHeight + 4 + 30
cbCanvas.width = cbW
cbCanvas.height = cbH
cbCanvas.style.left = (cbLeft - PAD) + 'px'
cbCanvas.style.top = (cbTop - 2) + 'px'
cbCanvas.style.width = cbW + 'px'
cbCanvas.style.height = cbH + 'px'
document.body.appendChild(cbCanvas)

const colorbarFill = ctx => {
	const chart = ctx.chart
	if (!chart.chartArea) return 'rgba(0,0,0,0)'
	const xs = chart.scales.x
	const x0 = xs.getPixelForValue(-1)
	const x1 = xs.getPixelForValue(1)
	const g = chart.ctx.createLinearGradient(x0, 0, x1, 0)
	cbTicks.forEach(v => g.addColorStop((v + 1) / 2, colorOf(v)))
	return g
}

new Chart(cbCanvas, {
	type: 'bar',
	data: {
		labels: ['colorbar'],
		datasets: [{
			data: [{ x: [-1, 1], y: 'colorbar' }],
			backgroundColor: colorbarFill,
			borderColor: '#c6c6c6',
			borderWidth: 1,
			borderSkipped: false,
			barPercentage: 1,
			categoryPercentage: 1
		}]
	},
	options: {
		indexAxis: 'y',
		responsive: false,
		animation: false,
		events: [],
		layout: { padding: { left: PAD, right: PAD, top: 2, bottom: 2 } },
		plugins: { legend: { display: false }, tooltip: { enabled: false } },
		scales: {
			x: {
				type: 'linear', min: -1, max: 1,
				grid: { display: true, drawOnChartArea: false, drawTicks: true, tickLength: 4, color: '#c6c6c6' },
				border: { display: false },
				afterBuildTicks: s => { s.ticks = cbMinorTicks.map(v => ({ value: v })) },
				ticks: {
					font: tickFont(13), color: '#111', padding: 2, maxRotation: 0, autoSkip: false,
					callback: v => {
						const i = cbTicks.findIndex(t => Math.abs(t - v) < 1e-6)
						return i < 0 ? '' : cbLabels[i]
					}
				},
				afterFit: s => { s.height = 30; s.paddingLeft = 0; s.paddingRight = 0 }
			},
			y: { display: false }
		}
	}
})
</script>
</body>
</html>
